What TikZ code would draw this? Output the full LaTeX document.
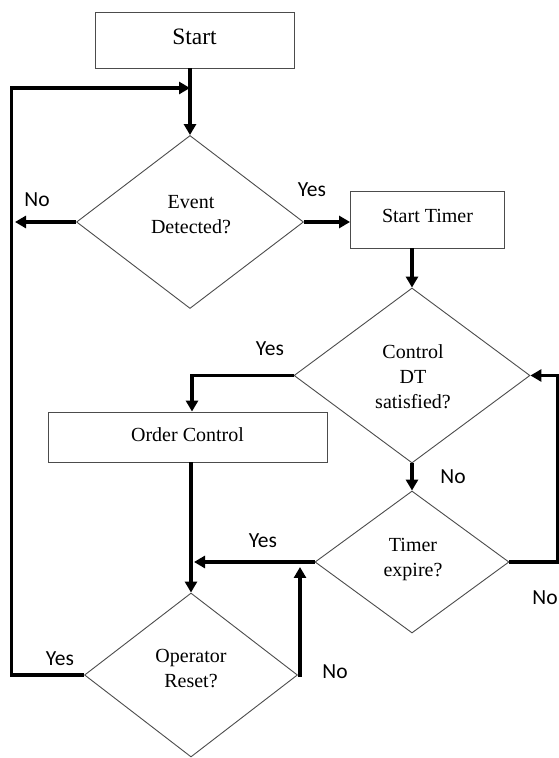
\documentclass[tikz,border=0pt]{standalone}
\usepackage{fontspec}
\setmainfont{Liberation Serif}
\newfontfamily\lblfont{Carlito}
\usetikzlibrary{arrows.meta,shapes.geometric}
\begin{document}
\begin{tikzpicture}[x=1pt,y=1pt,
  box/.style={draw=black!70, line width=0.9pt, rectangle, inner sep=0pt, font=\fontsize{20}{25}\selectfont},
  dia/.style={draw=black!70, line width=0.9pt, diamond, inner sep=0pt},
  txt/.style={align=center, inner sep=0pt, font=\fontsize{20}{25}\selectfont},
  lbl/.style={inner sep=0pt, font=\lblfont\fontsize{21.5}{24}\selectfont},
  flow/.style={line width=3.2pt, -{Triangle[length=11pt,width=12pt]}},
]
\useasboundingbox (0,0) rectangle (558,758);
\fill[white] (0,0) rectangle (558,758);

% process boxes
\node[box, minimum width=199pt, minimum height=56pt, font=\fontsize{23.5}{28}\selectfont] (start) at (194.5,718) {\raisebox{7pt}{Start}};
\node[box, minimum width=154pt, minimum height=57pt] (st) at (427.5,538.5) {\raisebox{6.5pt}{Start Timer}};
\node[box, minimum width=279pt, minimum height=50pt] (oc) at (187.5,321) {\raisebox{4pt}{Order Control}};

% decisions
\node[dia, minimum width=227pt, minimum height=173pt] (ev) at (190,536) {};
\node[dia, minimum width=236pt, minimum height=175pt] (ctl) at (412,382.5) {};
\node[dia, minimum width=194pt, minimum height=142pt] (tm) at (412,196) {};
\node[dia, minimum width=213pt, minimum height=164pt] (op) at (191,83) {};

\node[txt] (evt) at (191,543.5) {Event\\Detected?};
\node[txt] (ctlt) at (413,381) {Control\\DT\\satisfied?};
\node[txt] (tmt) at (413,198.5) {Timer\\expire?};
\node[txt] (opt) at (191,89) {Operator\\Reset?};

% helper coordinates
\coordinate (lc) at (11.5,670);
\coordinate (join) at (190,670);
\coordinate (evno) at (15,536);
\coordinate (tmyes) at (194,196);
\coordinate (opno) at (300,191);
\coordinate (rc) at (557.5,196);

% connectors
\draw[flow] (ev.north |- start.south) -- (ev.north);
\draw[flow] (op.west) -| (lc) -- (join);
\draw[flow] (ev.west) -- (evno);
\draw[flow] (ev.east) -- (ev.east -| st.west);
\draw[flow] (st.south -| ctl.north) -- (ctl.north);
\draw[flow] (ctl.west) -| ([xshift=4.5pt]oc.north);
\draw[flow] (oc.south -| op.north) -- (op.north);
\draw[flow] (ctl.south) -- (tm.north);
\draw[flow] (tm.west) -- (tmyes);
\draw[flow] (tm.east) -- (rc) |- (ctl.east);
\draw[flow] (op.east) -| (opno);

% labels
\node[lbl] (l1) at (37,558) {No};
\node[lbl] (l2) at (312,568) {Yes};
\node[lbl] (l3) at (270,409) {Yes};
\node[lbl] (l4) at (453,281) {No};
\node[lbl] (l5) at (263,217) {Yes};
\node[lbl] (l6) at (545,160) {No};
\node[lbl] (l7) at (60,99) {Yes};
\node[lbl] (l8) at (335,86) {No};
\end{tikzpicture}
\end{document}
